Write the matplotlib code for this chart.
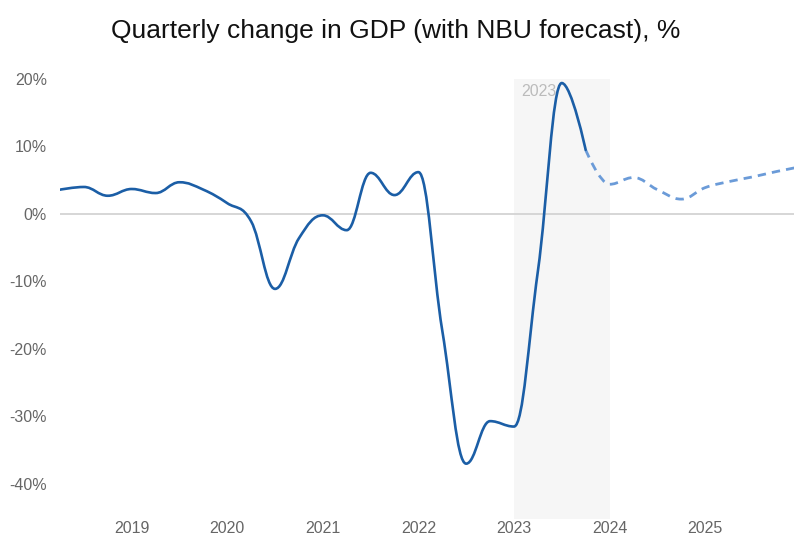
import matplotlib
matplotlib.use("Agg")
import matplotlib.pyplot as plt
from matplotlib.path import Path
from matplotlib.patches import PathPatch
from matplotlib.ticker import FuncFormatter

# Year-on-year real GDP change by quarter, %
actual_quarters = [
    "2018Q1", "2018Q2", "2018Q3", "2018Q4",
    "2019Q1", "2019Q2", "2019Q3", "2019Q4",
    "2020Q1", "2020Q2", "2020Q3", "2020Q4",
    "2021Q1", "2021Q2", "2021Q3", "2021Q4",
    "2022Q1", "2022Q2", "2022Q3", "2022Q4",
    "2023Q1", "2023Q2", "2023Q3",
]
actual_values = [
    3.6, 4.0, 2.7, 3.7,
    3.1, 4.7, 3.6, 1.6,
    -1.1, -11.1, -3.6, -0.2,
    -2.4, 6.1, 2.8, 6.2,
    -17.3, -37.0, -30.7, -31.5,
    -8.5, 19.4, 9.5,
]

# NBU forecast, starting from the last actual quarter
forecast_quarters = [
    "2023Q3", "2023Q4",
    "2024Q1", "2024Q2", "2024Q3", "2024Q4",
    "2025Q1", "2025Q2", "2025Q3", "2025Q4",
]
forecast_values = [
    9.5, 4.4,
    5.4, 3.6, 2.2, 3.9,
    4.8, 5.5, 6.3, 7.0,
]

year_ticks = [2019, 2020, 2021, 2022, 2023, 2024, 2025]
highlight_year = 2023

TITLE = "Quarterly change in GDP (with NBU forecast), %"
SOLID_COLOR = "#1b5ea6"
FORECAST_COLOR = "#6b9bd8"
LABEL_COLOR = "#666666"
FONT = "Liberation Sans"


def quarter_to_x(q):
    return int(q[:4]) + int(q[-1]) * 0.25


def spline_path(xs, ys, smoothing=1.5):
    """Smooth curve through the points, bezier control points clamped to avoid false extremes."""
    n = len(xs)
    denom = smoothing + 1
    left = [None] * n
    right = [None] * n
    for i in range(1, n - 1):
        x, y = xs[i], ys[i]
        lx, ly = xs[i - 1], ys[i - 1]
        nx, ny = xs[i + 1], ys[i + 1]
        lcx = (smoothing * x + lx) / denom
        lcy = (smoothing * y + ly) / denom
        rcx = (smoothing * x + nx) / denom
        rcy = (smoothing * y + ny) / denom
        corr = 0.0
        if rcx != lcx:
            corr = (rcy - lcy) * (rcx - x) / (rcx - lcx) + y - rcy
        lcy += corr
        rcy += corr
        if lcy > ly and lcy > y:
            lcy = max(ly, y)
            rcy = 2 * y - lcy
        elif lcy < ly and lcy < y:
            lcy = min(ly, y)
            rcy = 2 * y - lcy
        if rcy > ny and rcy > y:
            rcy = max(ny, y)
            lcy = 2 * y - rcy
        elif rcy < ny and rcy < y:
            rcy = min(ny, y)
            lcy = 2 * y - rcy
        left[i] = (lcx, lcy)
        right[i] = (rcx, rcy)

    verts = [(xs[0], ys[0])]
    codes = [Path.MOVETO]
    for i in range(1, n):
        c1 = right[i - 1] or (xs[i - 1], ys[i - 1])
        c2 = left[i] or (xs[i], ys[i])
        verts += [c1, c2, (xs[i], ys[i])]
        codes += [Path.CURVE4] * 3
    return Path(verts, codes)


fig = plt.figure(figsize=(7.94, 5.36), dpi=100)
ax = fig.add_axes([60 / 794, 1 - 519 / 536, 1 - 60 / 794, (519 - 79) / 536])

ax.set_xlim(2018.25, 2025.93)
ax.set_ylim(-45.2, 20)

ax.axvspan(highlight_year, highlight_year + 1, color="#f6f6f6", zorder=0, lw=0)
ax.text(highlight_year + 0.08, 18.1, str(highlight_year), color="#bbbbbb",
        fontsize=11.5, ha="left", va="center", family=FONT)
ax.axhline(0, color="#d0d0d0", lw=1.2, zorder=1)

ax_x = [quarter_to_x(q) for q in actual_quarters]
fc_x = [quarter_to_x(q) for q in forecast_quarters]

ax.add_patch(PathPatch(spline_path(fc_x, forecast_values), fill=False,
                       edgecolor=FORECAST_COLOR, lw=2.0, linestyle=(0, (3, 2.2)),
                       capstyle="butt", zorder=3))
ax.add_patch(PathPatch(spline_path(ax_x, actual_values), fill=False,
                       edgecolor=SOLID_COLOR, lw=1.9, capstyle="round",
                       joinstyle="round", zorder=4))

ax.set_xticks(year_ticks)
ax.set_xticklabels([str(y) for y in year_ticks])
ax.set_yticks([20, 10, 0, -10, -20, -30, -40])
ax.yaxis.set_major_formatter(FuncFormatter(lambda v, pos: f"{int(v)}%"))
ax.tick_params(axis="both", length=0, labelsize=11.5, labelcolor=LABEL_COLOR)
ax.tick_params(axis="x", pad=1.5)
ax.tick_params(axis="y", pad=9.4)
for lab in ax.get_xticklabels() + ax.get_yticklabels():
    lab.set_family(FONT)
for s in ax.spines.values():
    s.set_visible(False)

fig.text(396 / 794, 1 - 31 / 536, TITLE, ha="center", va="center",
         fontsize=19, color="#111111", family=FONT)

fig.savefig("out.png", dpi=100)
